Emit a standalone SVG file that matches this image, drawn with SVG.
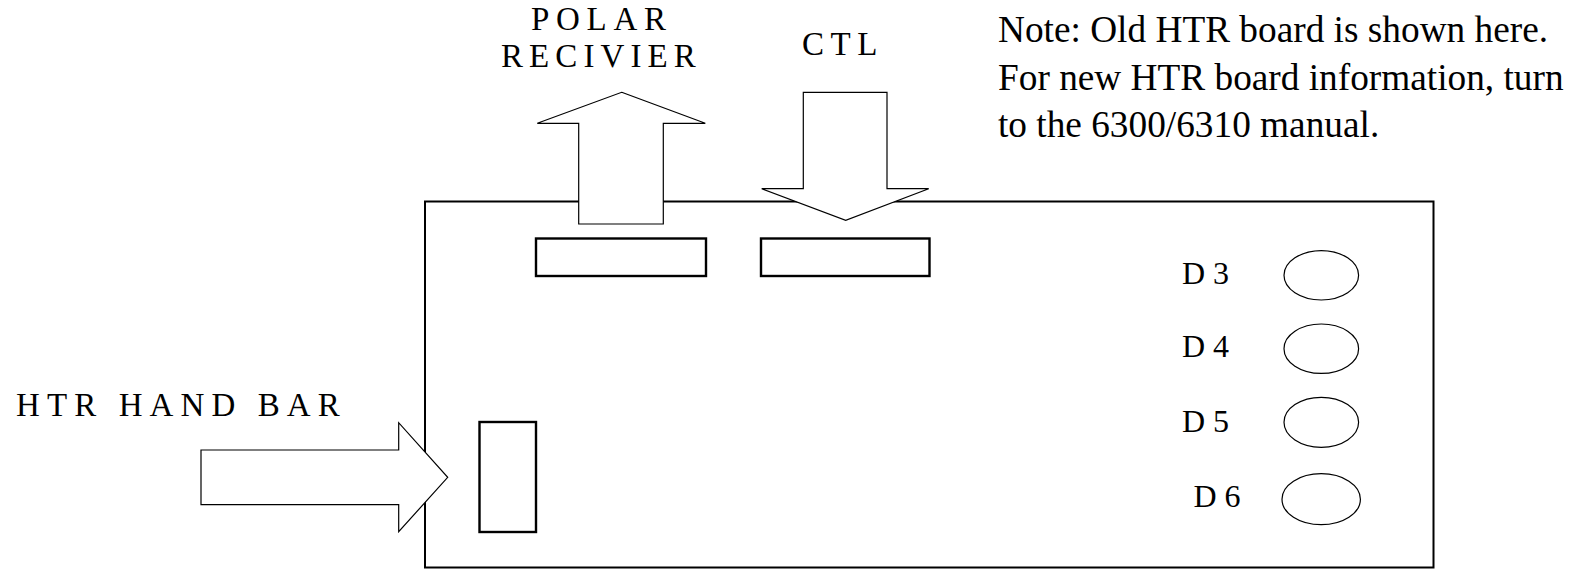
<svg xmlns="http://www.w3.org/2000/svg" width="1574" height="569" viewBox="0 0 1574 569">
<style>
.lbl{font-family:"Liberation Serif","Times New Roman",serif;font-size:33px;fill:#000;letter-spacing:6.7px}
.dl{font-family:"Liberation Serif","Times New Roman",serif;font-size:32px;fill:#000}
.note{font-family:"Liberation Serif","Times New Roman",serif;font-size:37.3px;fill:#000}
.board{fill:#fff;stroke:#000;stroke-width:2}
.conn{fill:#fff;stroke:#000;stroke-width:2.4}
.led{fill:#fff;stroke:#000;stroke-width:1.2}
.arrow{fill:#fff;stroke:#000;stroke-width:1.2;stroke-linejoin:miter}
</style>
<rect width="1574" height="569" fill="#fff"/>
<g id="board">
<rect class="board" x="425" y="201.5" width="1008.5" height="366"/>
</g>
<g id="connector-polar">
<rect class="conn" x="536" y="238.5" width="170" height="37.5"/>
</g>
<g id="connector-ctl">
<rect class="conn" x="761" y="238.5" width="168.5" height="37.5"/>
</g>
<g id="connector-handbar">
<rect class="conn" x="479.5" y="422" width="56.5" height="110"/>
</g>
<g id="connectors">
<polygon class="arrow" points="621.7,92.3 705.3,123.3 663.3,123.3 663.3,224 578.7,224 578.7,123.3 537.3,123.3"/>
<polygon class="arrow" points="803.3,92.3 887,92.3 887,188.7 928.7,188.7 845.7,220.3 761.7,188.7 803.3,188.7"/>
<polygon class="arrow" points="201,450 398.7,450 398.7,422.7 447.7,477.3 398.7,531.7 398.7,504.7 201,504.7"/>
</g>
<g id="label-polar">
<text class="lbl" x="531" y="30">POLAR</text>
<text class="lbl" x="501" y="66.7" style="letter-spacing:6.1px">RECIVIER</text>
</g>
<g id="label-ctl">
<text class="lbl" x="802" y="55" style="letter-spacing:6.6px">CTL</text>
</g>
<g id="label-handbar">
<text class="lbl" x="16" y="416" style="letter-spacing:7.1px">HTR HAND BAR</text>
</g>
<g id="note">
<text class="note" x="998" y="42">Note: Old HTR board is shown here.</text>
<text class="note" x="998" y="89.5">For new HTR board information, turn</text>
<text class="note" x="998" y="137">to the 6300/6310 manual.</text>
</g>
<g id="led-d3">
<ellipse class="led" cx="1321.3" cy="275.3" rx="37.3" ry="24.7"/>
<text class="dl" x="1182" y="284.3">D 3</text>
</g>
<g id="led-d4">
<ellipse class="led" cx="1321.3" cy="348.7" rx="37.3" ry="24.7"/>
<text class="dl" x="1182" y="356.7">D 4</text>
</g>
<g id="led-d5">
<ellipse class="led" cx="1321.3" cy="422.3" rx="37.3" ry="25"/>
<text class="dl" x="1182" y="432.3">D 5</text>
</g>
<g id="led-d6">
<ellipse class="led" cx="1321.2" cy="499.2" rx="39.2" ry="25.5"/>
<text class="dl" x="1193.5" y="506.7">D 6</text>
</g>
</svg>
